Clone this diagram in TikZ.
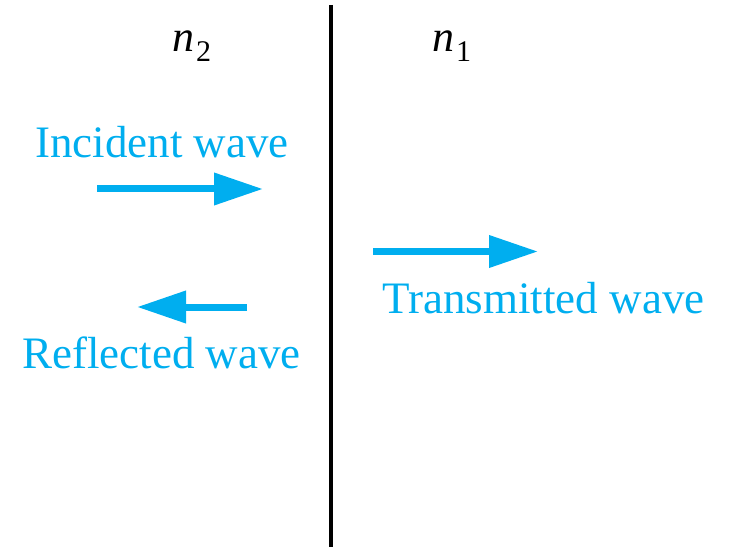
\documentclass[tikz,border=0pt]{standalone}
\usepackage{fontspec}
\setmainfont{Liberation Serif}
\usetikzlibrary{arrows.meta}
\definecolor{wavecyan}{RGB}{0,174,239}
\tikzset{
  wavearrow/.style={draw=wavecyan, line width=7pt,
    -{Triangle[length=49pt,width=31pt]}},
  wavelabel/.style={text=wavecyan, inner sep=0pt, anchor=base,
    font=\fontsize{45}{50}\selectfont},
  indexlabel/.style={text=black, inner sep=0pt, anchor=base west,
    font=\fontsize{44}{50}\selectfont},
}
\newcommand{\subidx}[1]{\hspace{2pt}\raisebox{-10pt}{\fontsize{30}{30}\selectfont #1}}
\begin{document}
\begin{tikzpicture}[x=1pt,y=1pt]
\useasboundingbox (0,0) rectangle (733,547);
% interface
\draw[line width=4pt] (330.5,542) coordinate (top) -- (330.5,0) coordinate (bot);
% indices
\node[indexlabel] (n2) at (172,495) {\textit{n}\subidx{2}};
\node[indexlabel] (n1) at (432,495) {\textit{n}\subidx{1}};
% arrows
\coordinate (incA) at (97,358);
\coordinate (incB) at (263,358);
\coordinate (refA) at (247,240);
\coordinate (refB) at (137,240);
\coordinate (traA) at (373,295.5);
\coordinate (traB) at (538,295.5);
\draw[wavearrow] (incA) -- (incB);
\draw[wavearrow] (refA) -- (refB);
\draw[wavearrow] (traA) -- (traB);
% labels
\node[wavelabel] (inc) at (162,389) {Incident wave};
\node[wavelabel] (ref) at (161.5,179) {Reflected wave};
\node[wavelabel] (tra) at (543.5,234) {Transmitted wave};
\end{tikzpicture}
\end{document}
